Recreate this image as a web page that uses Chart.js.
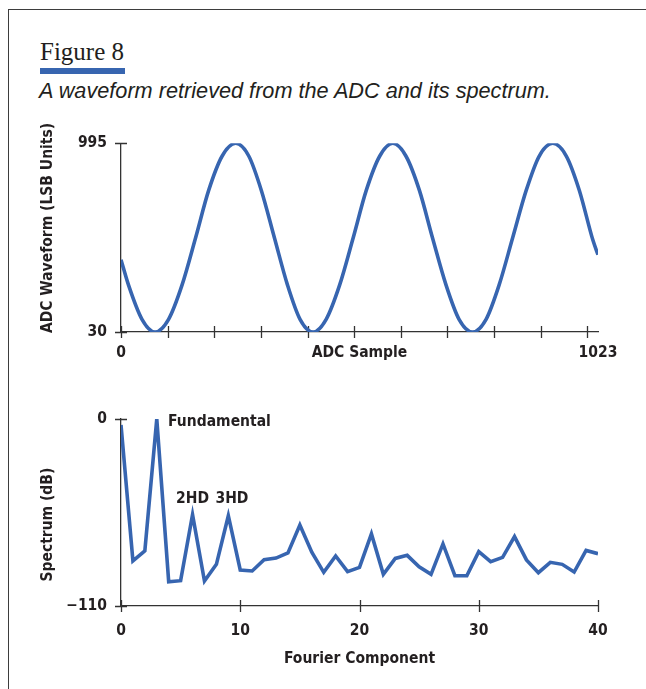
<!DOCTYPE html>
<html><head><meta charset="utf-8">
<script src="https://cdn.jsdelivr.net/npm/chart.js@4"></script>
<style>
html,body{margin:0;padding:0;background:#fff;width:646px;height:689px;overflow:hidden}
#frame{position:absolute;left:8px;top:9px;width:640px;height:682px;border-top:1.5px solid #3d3d3d;border-left:1.5px solid #3d3d3d}
#fig{position:absolute;left:40px;top:37px;font:25px 'Liberation Serif',serif;color:#231f20;white-space:nowrap;line-height:30px}
#bar{position:absolute;left:40px;top:68px;width:85px;height:6px;background:#3765b0}
#sub{position:absolute;left:39px;top:78px;font:italic 21.7px 'Liberation Sans',Arial,sans-serif;color:#231f20;white-space:nowrap;line-height:26px}
#c1wrap{position:absolute;left:0;top:120px;width:646px;height:250px}
#c2wrap{position:absolute;left:0;top:390px;width:646px;height:299px}
</style></head>
<body>
<div id="frame"></div>
<div id="fig">Figure 8</div>
<div id="bar"></div>
<div id="sub">A waveform retrieved from the ADC and its spectrum.</div>
<div id="c1wrap"><canvas id="c1" width="646" height="250"></canvas></div>
<div id="c2wrap"><canvas id="c2" width="646" height="299"></canvas></div>
<script>
// ---------- data ----------
const waveSamples = [0, 16, 45, 73, 102, 131, 160, 188, 217, 246, 274, 301, 329, 357, 384, 412, 440, 469, 498, 526, 555, 583, 611, 640, 668, 697, 725, 754, 783, 811, 840, 869, 897, 926, 955, 983, 1012, 1023];
const waveValues  = [400, 271, 95, 30, 95, 271, 512, 754, 930, 995, 930, 754, 512, 271, 95, 30, 95, 271, 512, 754, 930, 995, 930, 754, 512, 271, 95, 30, 95, 271, 512, 754, 930, 995, 930, 754, 500, 425];
const waveYTicks = [30, 995];
const waveXLabelTicks = [0, 1023];
const waveXTickMarks = [0, 100, 200, 300, 400, 500, 600, 700, 800, 900, 1000];

const spectrumComponents = [0,1,2,3,4,5,6,7,8,9,10,11,12,13,14,15,16,17,18,19,20,21,22,23,24,25,26,27,28,29,30,31,32,33,34,35,36,37,38,39,40];
const spectrumDb = [-3.5,-83.5,-77.6,0,-95.7,-95.1,-56.3,-95.3,-85.5,-56.9,-88.8,-89.4,-82.7,-81.8,-78.8,-62.4,-78.4,-90.2,-80.6,-89.8,-87.3,-67.6,-91.4,-82,-80.2,-86.9,-91.4,-73.5,-92.2,-92.2,-78,-83.9,-81.4,-69.2,-82.9,-90.4,-84.3,-85.5,-90,-77.3,-79.2];
const spectrumXTicks = [0, 10, 20, 30, 40];
const spectrumYTicks = [-110, 0];
const spectrumNotes = [
  {text: 'Fundamental', x: 3.95, y: -1.8, align: 'left'},
  {text: '2HD', x: 6.0, y: -47, align: 'center'},
  {text: '3HD', x: 9.3, y: -47, align: 'center'}
];

// ---------- styles ----------
const LINE_BLUE = '#3765b0';
const INK = '#231f20';
const AXIS = '#333333';

function fontAvailable(name){
  const ctx=document.createElement('canvas').getContext('2d');
  const t='ADC Waveform (LSB Units) 1023';
  ctx.font='bold 40px monospace'; const a=ctx.measureText(t).width;
  ctx.font='bold 40px "'+name+'", monospace'; const b=ctx.measureText(t).width;
  return Math.abs(a-b)>0.5;
}
let FAMILY = "'Liberation Sans', Arial, sans-serif";
let SIZE = 15.5;
if (fontAvailable('Liberation Sans Narrow')) { FAMILY = "'Liberation Sans Narrow', 'Liberation Sans', sans-serif"; SIZE = 18; }
else if (fontAvailable('DejaVu Sans Condensed')) { FAMILY = "'DejaVu Sans Condensed', 'Liberation Sans', sans-serif"; SIZE = 15.5; }
const LABEL_FONT = {family: FAMILY, size: SIZE, weight: 'bold'};

// ---------- plugins ----------
const crossTicks = {
  id: 'crossTicks',
  beforeDatasetsDraw(chart, args, o) {
    const {ctx, chartArea, scales} = chart;
    ctx.save();
    ctx.strokeStyle = o.color; ctx.lineWidth = o.width;
    ctx.beginPath();
    (o.x || []).forEach(v => {
      const px = Math.round(scales.x.getPixelForValue(v)) + 0.5;
      ctx.moveTo(px, chartArea.bottom - o.inner); ctx.lineTo(px, chartArea.bottom + o.outer);
    });
    (o.y || []).forEach(v => {
      const py = Math.round(scales.y.getPixelForValue(v)) + 0.5;
      ctx.moveTo(chartArea.left - o.outer, py); ctx.lineTo(chartArea.left + o.inner, py);
    });
    ctx.stroke();
    ctx.restore();
  }
};
const notes = {
  id: 'notes',
  afterDatasetsDraw(chart, args, o) {
    if (!o.items) return;
    const {ctx, scales} = chart;
    ctx.save();
    ctx.fillStyle = o.color;
    ctx.font = o.font;
    ctx.textBaseline = 'middle';
    o.items.forEach(n => {
      ctx.textAlign = n.align;
      ctx.fillText(n.text, scales.x.getPixelForValue(n.x), scales.y.getPixelForValue(n.y));
    });
    ctx.restore();
  }
};

function axisCommon() {
  return {
    grid: {display: false, drawTicks: false},
    border: {display: true, color: AXIS, width: 1.3},
  };
}

// ---------- chart 1: waveform ----------
new Chart(document.getElementById('c1'), {
  type: 'line',
  data: {
    datasets: [{
      data: waveSamples.map((s, i) => ({x: s, y: waveValues[i]})),
      borderColor: LINE_BLUE, borderWidth: 3.6, pointRadius: 0,
      cubicInterpolationMode: 'monotone', fill: false
    }]
  },
  options: {
    responsive: false, animation: false, devicePixelRatio: 1,
    layout: {padding: {top: 23, left: 0, right: 48, bottom: 0}},
    plugins: {
      legend: {display: false}, tooltip: {enabled: false},
      crossTicks: {x: waveXTickMarks, y: waveYTicks, inner: 6, outer: 6, color: AXIS, width: 1.3}
    },
    scales: {
      x: Object.assign(axisCommon(), {
        type: 'linear', min: 0, max: 1023,
        afterBuildTicks: s => { s.ticks = waveXLabelTicks.map(v => ({value: v})); },
        afterFit: s => { s.height = 38; },
        ticks: {autoSkip: false, maxRotation: 0, padding: 12, font: LABEL_FONT, color: INK, callback: v => String(v)},
        title: {display: true, text: 'ADC Sample', font: LABEL_FONT, color: INK, padding: {top: 0, bottom: 7.5}}
      }),
      y: Object.assign(axisCommon(), {
        type: 'linear', min: 30, max: 995,
        afterBuildTicks: s => { s.ticks = waveYTicks.map(v => ({value: v})); },
        afterFit: s => { s.width = 121; },
        ticks: {autoSkip: false, padding: 14, font: LABEL_FONT, color: INK, callback: v => String(v)},
        title: {display: true, text: '    ADC Waveform (LSB Units)', font: LABEL_FONT, color: INK, padding: {top: 38.5, bottom: 0}}
      })
    }
  },
  plugins: [crossTicks]
});

// ---------- chart 2: spectrum ----------
new Chart(document.getElementById('c2'), {
  type: 'line',
  data: {
    datasets: [{
      data: spectrumComponents.map((c, i) => ({x: c, y: spectrumDb[i]})),
      borderColor: LINE_BLUE, borderWidth: 3.6, pointRadius: 0, tension: 0,
      borderJoinStyle: 'miter', fill: false
    }]
  },
  options: {
    responsive: false, animation: false, devicePixelRatio: 1,
    layout: {padding: {top: 29, left: 0, right: 48, bottom: 0}},
    plugins: {
      legend: {display: false}, tooltip: {enabled: false},
      crossTicks: {x: spectrumXTicks, y: spectrumYTicks, inner: 6, outer: 6, color: AXIS, width: 1.3},
      notes: {items: spectrumNotes, color: INK, font: 'bold ' + SIZE + 'px ' + FAMILY}
    },
    scales: {
      x: Object.assign(axisCommon(), {
        type: 'linear', min: 0, max: 40,
        afterBuildTicks: s => { s.ticks = spectrumXTicks.map(v => ({value: v})); },
        afterFit: s => { s.height = 83; },
        ticks: {autoSkip: false, maxRotation: 0, padding: 15.5, font: LABEL_FONT, color: INK, callback: v => String(v)},
        title: {display: true, text: 'Fourier Component', font: LABEL_FONT, color: INK, padding: {top: 0, bottom: 21}}
      }),
      y: Object.assign(axisCommon(), {
        type: 'linear', min: -110, max: 0,
        afterBuildTicks: s => { s.ticks = spectrumYTicks.map(v => ({value: v})); },
        afterFit: s => { s.width = 121; },
        ticks: {autoSkip: false, padding: 14, font: LABEL_FONT, color: INK,
                callback: v => v < 0 ? '\u2212' + Math.abs(v) : String(v)},
        title: {display: true, text: 'Spectrum (dB)     ', font: LABEL_FONT, color: INK, padding: {top: 38.5, bottom: 0}}
      })
    }
  },
  plugins: [crossTicks, notes]
});
</script>
</body></html>
